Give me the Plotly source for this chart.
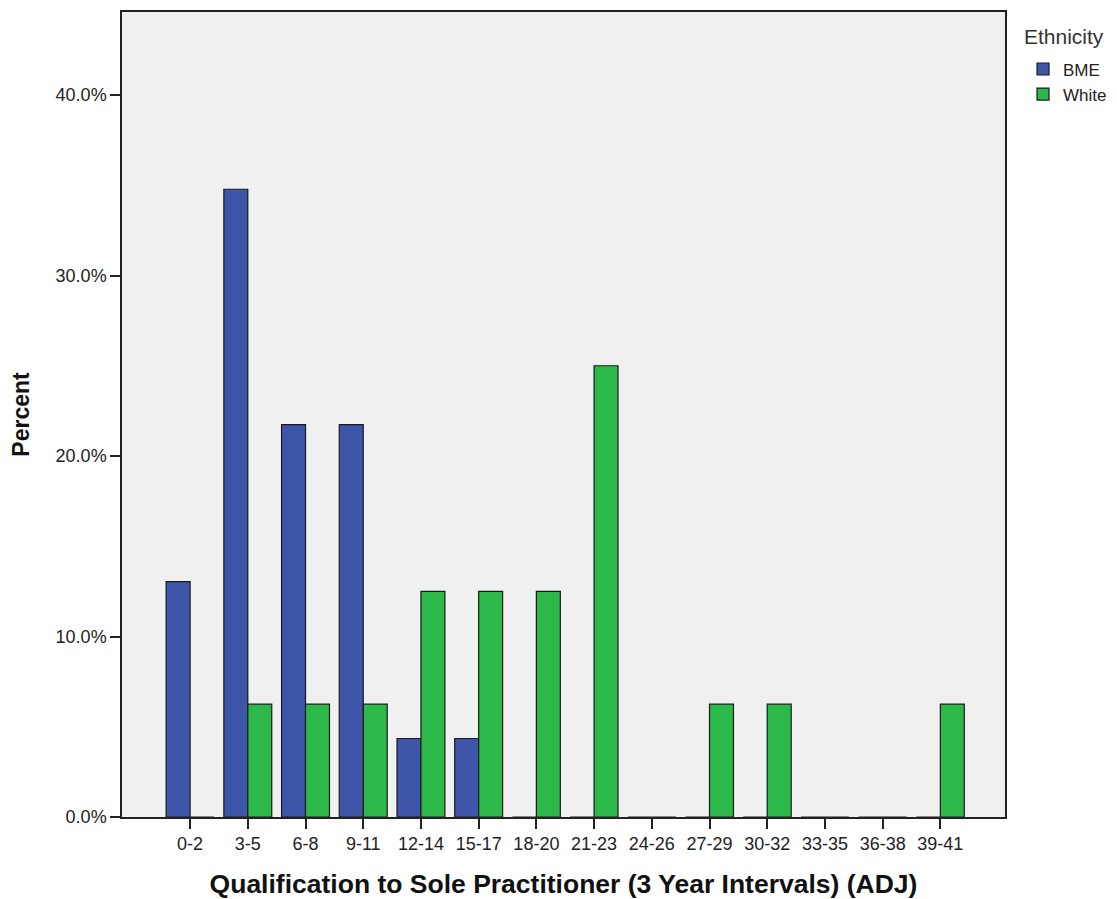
import plotly.graph_objects as go

categories = ["0-2", "3-5", "6-8", "9-11", "12-14", "15-17", "18-20", "21-23",
              "24-26", "27-29", "30-32", "33-35", "36-38", "39-41"]
bme = [13.04, 34.78, 21.74, 21.74, 4.35, 4.35, 0, 0, 0, 0, 0, 0, 0, 0]
white = [0, 6.25, 6.25, 6.25, 12.5, 12.5, 12.5, 25.0, 0, 6.25, 6.25, 0, 0, 6.25]
y_ticks = [0, 10, 20, 30, 40]
y_tick_labels = ["0.0%", "10.0%", "20.0%", "30.0%", "40.0%"]

fig = go.Figure()
fig.add_trace(go.Bar(x=categories, y=bme, name="BME",
                     marker=dict(color="#3D56AA", line=dict(color="#1a1a1a", width=1.2))))
fig.add_trace(go.Bar(x=categories, y=white, name="White",
                     marker=dict(color="#2DB84A", line=dict(color="#1a1a1a", width=1.2))))

# page body has an 8px default margin; compensate so plot area sits at 122..1005 x 10..818
fig.update_layout(
    width=1109, height=891,
    margin=dict(l=114, r=112, t=2, b=81),
    paper_bgcolor="white", plot_bgcolor="#F0F0F0",
    barmode="group", bargap=0.17, bargroupgap=0,
    font=dict(family="Liberation Sans, Arial, sans-serif", color="#222"),
    showlegend=True,
    legend=dict(x=1.0204, y=0.951, xref="paper", yref="paper",
                xanchor="left", yanchor="top",
                font=dict(size=17, color="#222"), tracegroupgap=0,
                itemwidth=30, bgcolor="rgba(0,0,0,0)"),
    annotations=[dict(text="Ethnicity", x=1.019, y=0.969, xref="paper", yref="paper",
                      xanchor="left", yanchor="middle", showarrow=False,
                      font=dict(size=21, color="#333"))],
)
fig.update_xaxes(type="category", range=[-1.18, 14.12],
                 showline=True, linecolor="#222", linewidth=1.5, mirror=True,
                 ticks="outside", ticklen=10, tickcolor="#222", tickwidth=1.5,
                 tickfont=dict(size=18, color="#222"), showgrid=False,
                 title=dict(text="Qualification to Sole Practitioner (3 Year Intervals) (ADJ)",
                            font=dict(size=26.5, family="Liberation Sans, Arial", weight="bold", color="#111"),
                            standoff=24))
fig.update_yaxes(range=[0, 44.6], tickvals=y_ticks, ticktext=y_tick_labels,
                 showline=True, linecolor="#222", linewidth=1.5, mirror=True,
                 ticks="outside", ticklen=10, tickcolor="#222", tickwidth=1.5,
                 tickfont=dict(size=18, color="#222"), showgrid=False, zeroline=False,
                 title=dict(text="Percent",
                            font=dict(size=23, family="Liberation Sans, Arial", weight="bold", color="#111"),
                            standoff=22))

fig.write_html("out.html")
